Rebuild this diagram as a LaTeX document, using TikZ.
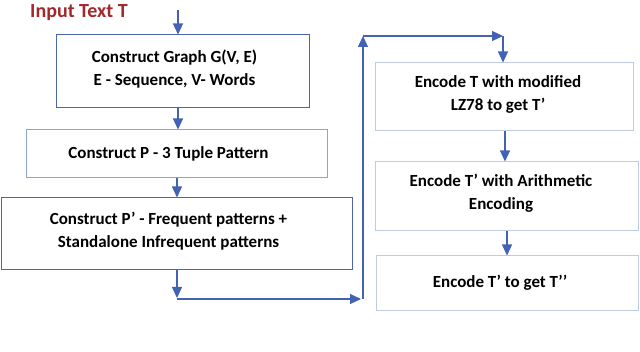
\documentclass[tikz,border=0pt]{standalone}
\usepackage{fontspec}
\setmainfont{Carlito}
\usetikzlibrary{arrows.meta,calc}
\definecolor{lblue}{HTML}{4262B4}
\definecolor{dbox}{HTML}{4A66B0}
\definecolor{pbox}{HTML}{BFCBE2}
\definecolor{mbox}{HTML}{8FA2D0}
\definecolor{dred}{HTML}{A3282C}
\begin{document}
\begin{tikzpicture}[x=1pt,y=-1pt,
  box/.style={draw=#1,line width=1pt,inner sep=0pt},
  lbl/.style={font=\fontsize{17}{23}\selectfont\bfseries,align=center,text=black,inner sep=0pt},
  arr/.style={draw=lblue,line width=1.1pt,-{Triangle[width=10pt,length=11pt]}},
  ln/.style={draw=lblue,line width=1.1pt}]
\useasboundingbox (0,0) rectangle (640,352);
\node[font=\fontsize{20}{24}\selectfont\bfseries,text=dred,anchor=west,inner sep=0pt] (title) at (30,13) {Input Text T};
\node[box=dbox,minimum width=253pt,minimum height=73pt] (b1) at (182.5,71.5) {};
\node[box=mbox,minimum width=301pt,minimum height=48pt] (b2) at (176.5,154) {};
\node[box=dbox,minimum width=351pt,minimum height=72pt] (b3) at (176.5,234) {};
\node[box=pbox,minimum width=258pt,minimum height=68pt] (b4) at (504,97) {};
\node[box=pbox,minimum width=263pt,minimum height=69pt] (b5) at (507,196.5) {};
\node[box=pbox,minimum width=262pt,minimum height=55pt] (b6) at (507,283.5) {};
\node[lbl] (t1) at ($(b1.center)+(-8,-2)$) {Construct Graph G(V, E)\\E - Sequence, V- Words};
\node[lbl] (t2) at ($(b2.center)+(-8,0)$) {Construct P - 3 Tuple Pattern};
\node[lbl] (t3) at ($(b3.center)+(-8,-3)$) {Construct P’ - Frequent patterns +\\Standalone Infrequent patterns};
\node[lbl] (t4) at ($(b4.center)+(-6,-3)$) {Encode T with modified\\LZ78 to get T’};
\node[lbl] (t5) at ($(b5.center)+(-6,-3)$) {Encode T’ with Arithmetic\\Encoding};
\node[lbl] (t6) at ($(b6.center)+(-7,-1)$) {Encode T’ to get T’’};
\coordinate (in) at (178,10);
\coordinate (c1) at (177,298);
\coordinate (c2) at (177,299);
\coordinate (c3) at (363,299);
\coordinate (c4) at (363,36);
\coordinate (c5) at (503,36);
\draw[arr] (in) -- (in|-b1.north);
\draw[arr] (178,0|-b1.south) -- (178,0|-b2.north);
\draw[arr] (177,0|-b2.south) -- (177,0|-b3.north);
\draw[arr] (177,0|-b3.south) -- (c1);
\draw[arr] (c2) -- (361,299);
\draw[arr] (c3) -- (c4);
\draw[arr] (c4) -- (c5);
\draw[arr] (c5) -- (c5|-b4.north);
\draw[arr] (505,0|-b4.south) -- (505,0|-b5.north);
\draw[arr] (507,0|-b5.south) -- (507,0|-b6.north);
\end{tikzpicture}
\end{document}
